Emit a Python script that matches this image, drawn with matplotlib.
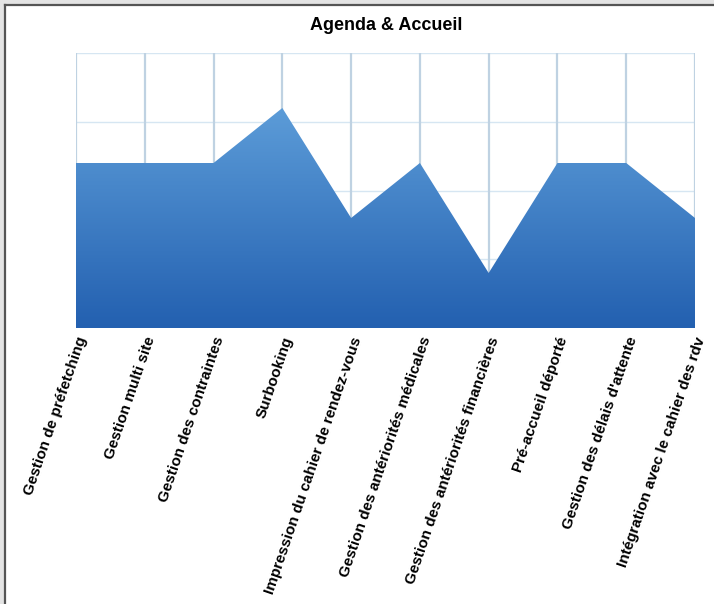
import matplotlib
matplotlib.use("Agg")
import matplotlib.pyplot as plt
import numpy as np
from matplotlib.patches import Polygon, Rectangle
from matplotlib.lines import Line2D

categories = [
    "Gestion de préfetching",
    "Gestion multi site",
    "Gestion des contraintes",
    "Surbooking",
    "Impression du cahier de rendez-vous",
    "Gestion des antériorités médicales",
    "Gestion des antériorités financières",
    "Pré-accueil déporté",
    "Gestion des délais d'attente",
    "Intégration avec le cahier des rdv",
]
scores = [3, 3, 3, 4, 2, 3, 1, 3, 3, 2]
y_max = 5
y_grid = [0, 1.25, 2.5, 3.75, 5]

plt.rcParams["font.family"] = ["Liberation Sans", "DejaVu Sans"]

W, H = 714, 604
fig = plt.figure(figsize=(W / 100, H / 100), dpi=100, facecolor="#e4e4e4")
# white page with a dark frame on top/left, like the screenshot
fig.patches.append(Rectangle((5 / W, 0), 1, 1 - 5 / H, transform=fig.transFigure,
                             facecolor="white", edgecolor="none", zorder=-1))
fig.lines.append(Line2D([5 / W, 5 / W], [0, 1 - 5 / H], transform=fig.transFigure,
                        color="#555555", lw=1.6))
fig.lines.append(Line2D([5 / W, 1], [1 - 5 / H, 1 - 5 / H], transform=fig.transFigure,
                        color="#555555", lw=1.6))

ax = fig.add_axes([76 / W, 1 - 328 / H, (695 - 76) / W, (328 - 53) / H])
ax.patch.set_alpha(0)

x = np.arange(len(categories))

# grid
for yv in y_grid:
    ax.axhline(yv, color="#d6e6f2", lw=1.0, zorder=0)
for xv in x:
    ax.axvline(xv, color="#bfd2e2", lw=1.6, zorder=0)

# gradient area
verts = [(x[0], 0)] + list(zip(x, scores)) + [(x[-1], 0)]
poly = Polygon(verts, closed=True, facecolor="none", edgecolor="none")
ax.add_patch(poly)
top_c = np.array([0x5c, 0x9c, 0xd8]) / 255
bot_c = np.array([0x23, 0x60, 0xb0]) / 255
t = np.linspace(0, 1, 256)[:, None]
grad = (bot_c[None, :] * (1 - t) + top_c[None, :] * t)[:, None, :]
img = ax.imshow(grad, extent=[x[0], x[-1], 0, max(scores)], origin="lower",
                aspect="auto", zorder=2)
img.set_clip_path(poly)
ax.set_xlim(0, len(categories) - 1)
ax.set_ylim(0, y_max)

for s in ax.spines.values():
    s.set_visible(False)
ax.set_yticks([])
ax.set_xticks(x)
ax.set_xticklabels(categories, rotation=71, ha="right", va="top",
                   rotation_mode="anchor", fontsize=11, fontweight="bold")
ax.tick_params(axis="x", length=0, pad=5)

fig.text(386 / W, 1 - 25 / H, "Agenda & Accueil", ha="center", va="center",
         fontsize=13, fontweight="bold")

fig.savefig("out.png", dpi=100, facecolor=fig.get_facecolor())
